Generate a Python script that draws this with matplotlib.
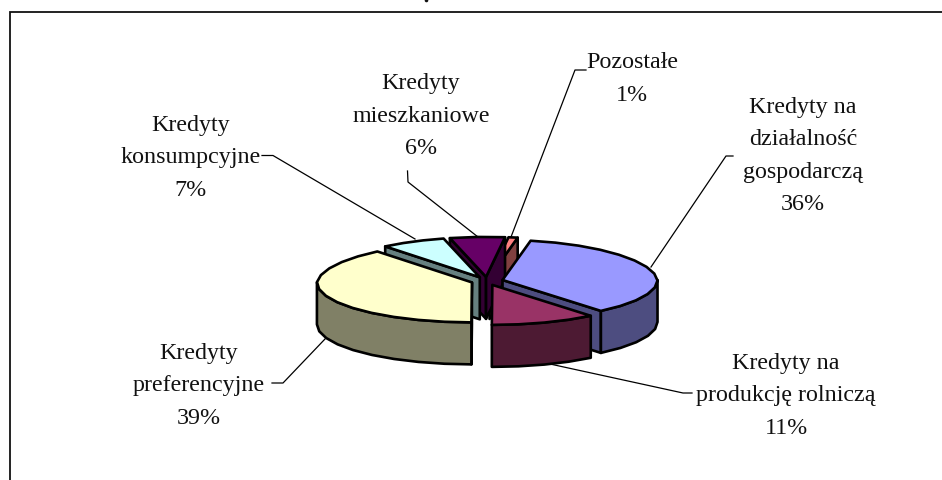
import numpy as np
import matplotlib
matplotlib.use("Agg")
import matplotlib.pyplot as plt
from matplotlib.patches import Polygon

# ---- data
categories = ["Kredyty na\ndziałalność\ngospodarczą", "Kredyty na\nprodukcję rolniczą",
              "Kredyty\npreferencyjne", "Kredyty\nkonsumpcyjne",
              "Kredyty\nmieszkaniowe", "Pozostałe"]
values = [36, 11, 39, 7, 6, 1]
top_colors = ["#9999FF", "#993366", "#FFFFCC", "#CCFFFF", "#660066", "#FF8080"]
side_colors = ["#4D4D80", "#4D1A33", "#808066", "#668080", "#330033", "#804040"]
label_xy = [(803, 156), (786, 396), (199, 386), (191, 158), (421, 116), (632, 79)]
leaders = [
    [(651, 268), (726, 157), (733, 157)],
    [(550, 365), (683, 394), (692, 394)],
    [(325, 340), (283, 384), (272, 384)],
    [(415, 240), (273, 156.5), (262, 156.5)],
    [(478, 238), (408, 183), (407.5, 172)],
    [(511, 238), (575, 71), (586, 71)],
]

# ---- geometry / style
CX, CY = 487, 282
RX, RY = 155, 40
DEPTH = 42
EXPLODE = 16
START = 11
PERSP = 0.05
STEP = 10
draw_order = [5, 4, 3, 0, 2, 1]

fig = plt.figure(figsize=(9.42, 4.81), dpi=100)
ax = fig.add_axes([0, 0, 1, 1])
ax.set_xlim(0, 942)
ax.set_ylim(481, 0)
ax.axis("off")

# frame (only top and left visible in the crop)
ax.plot([9.5, 9.5, 942], [481, 12.5, 12.5], color="#111111", lw=1.3, solid_joinstyle="miter")
ax.plot([426], [0.5], "o", color="#111111", ms=2.6, mew=0)


def pt(theta, r=1.0):
    t = np.radians(theta)
    return (r * RX * np.sin(t) * (1 - PERSP * max(np.cos(t), 0)), -r * RY * np.cos(t))


total = sum(values)
angle = START
LW = 1.9
for_draw = []
for v in values:
    a0, a1 = angle, angle + 360 * v / total
    angle = a1
    for_draw.append((a0, a1))

for i in draw_order:
    a0, a1 = for_draw[i]
    mid = np.radians((a0 + a1) / 2)
    ox = CX + EXPLODE * np.sin(mid)
    oy = CY - EXPLODE * np.cos(mid) * RY / RX
    n = max(2, int(round((a1 - a0) / STEP)) + 1)
    arc = [pt(a) for a in np.linspace(a0, a1, n)]
    arc = [(ox + x, oy + y) for x, y in arc]
    kw = dict(edgecolor="black", linewidth=LW, joinstyle="round")
    # visible radial walls
    for a, vis in ((a0, np.sin(np.radians(a0)) < 0), (a1, np.sin(np.radians(a1)) > 0)):
        if vis:
            x, y = pt(a)
            ax.add_patch(Polygon([(ox, oy), (ox + x, oy + y), (ox + x, oy + y + DEPTH), (ox, oy + DEPTH)],
                                 facecolor=side_colors[i], **kw))
    # outer wall (front part of the rim)
    lo, hi = max(a0, 90), min(a1, 270)
    if hi > lo:
        m = max(2, int(round((hi - lo) / STEP)) + 1)
        rim = [(ox + pt(a)[0], oy + pt(a)[1]) for a in np.linspace(lo, hi, m)]
        ax.add_patch(Polygon(rim + [(x, y + DEPTH) for x, y in rim[::-1]],
                             facecolor=side_colors[i], **kw))
    ax.add_patch(Polygon([(ox, oy)] + arc, facecolor=top_colors[i], **kw))

for line in leaders:
    ax.plot(*zip(*line), color="black", lw=0.9, zorder=1)

for name, v, (x, y) in zip(categories, values, label_xy):
    ax.text(x, y, f"{name}\n{v}%", ha="center", va="center", ma="center",
            fontsize=17.3, family="Liberation Serif", color="#111111", linespacing=1.69)

fig.savefig("out.png", dpi=100)
